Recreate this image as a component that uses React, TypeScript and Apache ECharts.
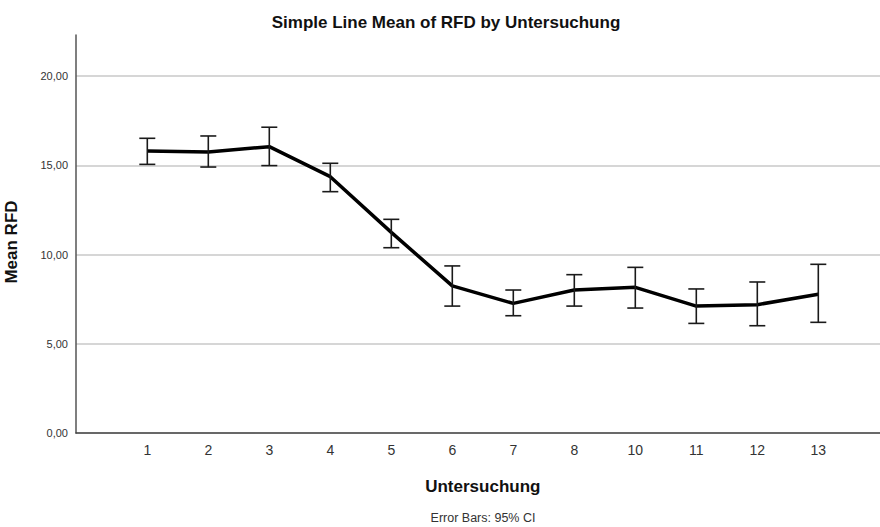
import React, { useEffect, useRef } from "react";
import * as echarts from "echarts";

const categories = ["1", "2", "3", "4", "5", "6", "7", "8", "10", "11", "12", "13"];
const means = [15.8, 15.74, 16.04, 14.36, 11.24, 8.24, 7.26, 8.01, 8.16, 7.11, 7.19, 7.77];
const upper = [16.51, 16.64, 17.13, 15.11, 11.97, 9.36, 8.01, 8.87, 9.28, 8.07, 8.46, 9.45];
const lower = [15.05, 14.9, 14.98, 13.52, 10.38, 7.11, 6.57, 7.11, 7.0, 6.14, 6.01, 6.2];
const yTicks = [0, 5, 10, 15, 20];

const FONT = "'Liberation Sans', Arial, sans-serif";

export default function App() {
  const ref = useRef<HTMLDivElement>(null);
  useEffect(() => {
    if (!ref.current) return;
    const chart = echarts.init(ref.current, null, { renderer: "svg" });
    const errData = categories.map((_, i) => [i, lower[i], upper[i]]);
    chart.setOption({
      animation: false,
      backgroundColor: "#ffffff",
      title: [
        {
          text: "Simple Line Mean of RFD by Untersuchung",
          left: 446,
          top: 14,
          padding: 0,
          textAlign: "center",
          textStyle: { fontFamily: FONT, fontSize: 17, fontWeight: "bold", color: "#111" },
        },
        {
          text: "Error Bars: 95% CI",
          left: 483,
          top: 511,
          padding: 0,
          textAlign: "center",
          textStyle: { fontFamily: FONT, fontSize: 12.5, fontWeight: "normal", color: "#333", lineHeight: 14 },
        },
      ],
      graphic: [
        {
          type: "text",
          x: 11,
          y: 242,
          rotation: Math.PI / 2,
          style: {
            text: "Mean RFD",
            font: `bold 17px ${FONT}`,
            fill: "#111",
            textAlign: "center",
            textVerticalAlign: "middle",
          },
        },
      ],
      grid: [
        { left: 76, right: 0, top: 76, bottom: 94 },
        { left: 76, right: 0, top: 35, bottom: 94 },
        { left: 116.8, right: 31.2, top: 76, bottom: 94 },
      ],
      xAxis: [
        {
          gridIndex: 0,
          type: "value",
          min: 0,
          max: 1,
          axisLine: { show: true, lineStyle: { color: "#444", width: 1.5 } },
          axisTick: { show: false },
          axisLabel: { show: false },
          splitLine: { show: false },
        },
        {
          gridIndex: 1,
          type: "value",
          min: 0,
          max: 1,
          show: false,
        },
        {
          gridIndex: 2,
          type: "category",
          data: categories,
          boundaryGap: true,
          axisLine: { show: false },
          axisTick: { show: false },
          axisLabel: { margin: 10, fontFamily: FONT, fontSize: 14, color: "#333" },
          name: "Untersuchung",
          nameLocation: "middle",
          nameGap: 45,
          nameTextStyle: { fontFamily: FONT, fontSize: 17, fontWeight: "bold", color: "#111" },
        },
      ],
      yAxis: [
        {
          gridIndex: 0,
          type: "value",
          min: yTicks[0],
          max: yTicks[yTicks.length - 1],
          interval: 5,
          axisLine: { show: false },
          axisTick: { show: false },
          axisLabel: {
            margin: 8,
            fontFamily: FONT,
            fontSize: 11,
            color: "#333",
            formatter: (v: number) => v.toFixed(2).replace(".", ","),
          },
          splitLine: { show: true, lineStyle: { color: "#c8c8c8", width: 1.5 } },
        },
        {
          gridIndex: 1,
          type: "value",
          min: 0,
          max: 1,
          axisLine: { show: true, lineStyle: { color: "#555", width: 1.5 } },
          axisTick: { show: false },
          axisLabel: { show: false },
          splitLine: { show: false },
        },
        {
          gridIndex: 2,
          type: "value",
          min: yTicks[0],
          max: yTicks[yTicks.length - 1],
          show: false,
        },
      ],
      series: [
        {
          type: "line",
          xAxisIndex: 2,
          yAxisIndex: 2,
          data: means,
          symbol: "none",
          lineStyle: { color: "#000", width: 3.5 },
          z: 3,
        },
        {
          type: "custom",
          xAxisIndex: 2,
          yAxisIndex: 2,
          data: errData,
          z: 4,
          renderItem: (params: any, api: any) => {
            const x = api.value(0);
            const lo = api.coord([x, api.value(1)]);
            const hi = api.coord([x, api.value(2)]);
            const hw = 8;
            const style = { stroke: "#1a1a1a", lineWidth: 1.6, fill: "none" };
            return {
              type: "group",
              children: [
                { type: "line", shape: { x1: hi[0], y1: hi[1], x2: lo[0], y2: lo[1] }, style },
                { type: "line", shape: { x1: hi[0] - hw, y1: hi[1], x2: hi[0] + hw, y2: hi[1] }, style },
                { type: "line", shape: { x1: lo[0] - hw, y1: lo[1], x2: lo[0] + hw, y2: lo[1] }, style },
              ],
            };
          },
        },
      ],
    });
    return () => chart.dispose();
  }, []);
  return (
    <div
      ref={ref}
      style={{ position: "fixed", left: 0, top: 0, width: 880, height: 527 }}
    />
  );
}
